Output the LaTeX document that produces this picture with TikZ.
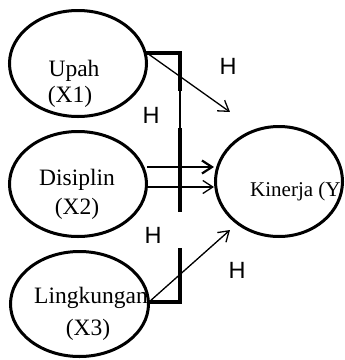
\documentclass[tikz,border=0pt]{standalone}
\usepackage{fontspec}
\setmainfont{Liberation Serif}
\newfontfamily\hfont{Liberation Sans}
\usetikzlibrary{shapes.geometric,arrows.meta}
\tikzset{
  varnode/.style={ellipse,draw,line width=3pt,inner sep=0pt},
  lbl/.style={font=\fontsize{23.5}{26}\selectfont,inner sep=0pt,anchor=base},
  hlbl/.style={font=\hfont\fontsize{23.5}{26}\selectfont,inner sep=0pt},
  bar/.style={line width=4.5pt},
  thinline/.style={line width=1.3pt},
  arr/.style={line width=1.3pt,-{Straight Barb[length=10pt,width=13pt]}},
}
\begin{document}
\begin{tikzpicture}[x=1pt,y=-1pt]
\useasboundingbox (0,0) rectangle (345,360);
\clip (0,0) rectangle (345,360);
% ellipses
\node[varnode,minimum width=137pt,minimum height=106pt] (upah) at (78,63.5) {};
\node[varnode,minimum width=137pt,minimum height=105pt] (disiplin) at (78,184) {};
\node[varnode,minimum width=138pt,minimum height=105pt] (ling) at (79.5,304) {};
\node[varnode,minimum width=127pt,minimum height=110pt] (kin) at (279,181.5) {};
% texts
\node[lbl] (t1) at (74,76) {Upah};
\node[lbl] (t1b) at (70,102) {(X1)};
\node[lbl] (t2) at (77,185) {Disiplin};
\node[lbl] (t2b) at (77,214) {(X2)};
\node[lbl] (t3) at (91,303) {Lingkungan};
\node[lbl] (t3b) at (88,335) {(X3)};
\node[font=\fontsize{21}{24}\selectfont,inner sep=0pt,anchor=base west] (ty) at (250,196) {Kinerja (Y};
% H labels
\node[hlbl] (h1) at (228,66) {H};
\node[hlbl] (h2) at (151,115) {H};
\node[hlbl] (h3) at (153,235) {H};
\node[hlbl] (h4) at (237,270) {H};
% coordinates
\coordinate (u0) at (147,53);
\coordinate (uc) at (180,53);
\coordinate (ub) at (180,89);
\coordinate (mt) at (180,128);
\coordinate (mb) at (180,212);
\coordinate (lt) at (180,250);
\coordinate (lc) at (180,302);
\coordinate (l0) at (149,302);
\coordinate (ua) at (230,112);
\coordinate (la) at (230,230);
\coordinate (d1a) at (147,167);
\coordinate (d1b) at (214,167);
\coordinate (d2a) at (148,187);
\coordinate (d2b) at (214,187);
% brackets
\draw[bar,line cap=rect] (u0) -- (uc) -- (ub);
\draw[thinline] (ub) -- (mt);
\draw[bar] (mt) -- (mb);
\draw[bar,line cap=rect] (lt) -- (lc) -- (l0);
% arrows
\draw[arr] (u0) -- (ua);
\draw[arr] (l0) -- (la);
\draw[arr,line width=2.2pt] (d1a) -- (d1b);
\draw[arr] (d2a) -- (d2b);
\end{tikzpicture}
\end{document}
